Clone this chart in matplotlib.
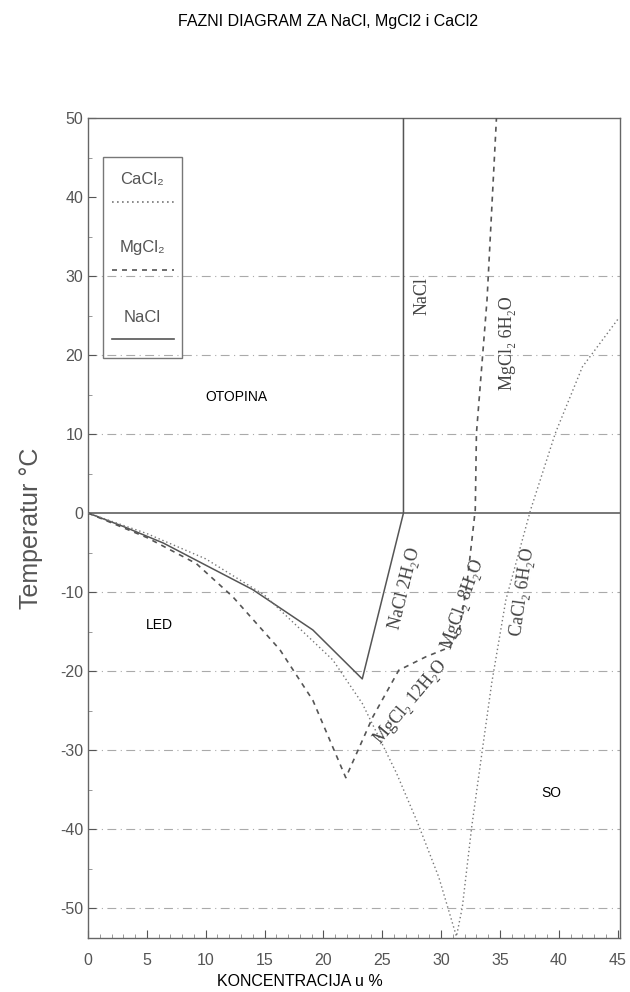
import matplotlib
matplotlib.use('Agg')
import matplotlib.pyplot as plt
from matplotlib.patches import Rectangle
from matplotlib.lines import Line2D

# values (concentration %, temperature degC)
nacl_x = [0, 3, 6.4, 10, 14.0, 19.1, 23.3, 26.8, 26.8]
nacl_t = [0, -1.7, -3.8, -6.6, -9.7, -14.8, -21.0, 0, 50]

mgcl2_x = [0, 5, 9.2, 12.3, 16.3, 19.1, 21.9, 24.2, 26.4, 28.7, 30.7, 31.5,
           32.2, 32.9, 33.0, 33.9, 34.7]
mgcl2_t = [0, -3.1, -6.4, -10.6, -17.3, -23.7, -33.5, -25.8, -19.9, -18.2,
           -17.0, -15.2, -8.9, 0.4, 10.1, 27.0, 50]

cacl2_x = [0, 5, 10, 15, 16.9, 20.8, 23.3, 26.2, 28.0, 29.8, 31.3, 31.8,
           32.6, 33.5, 34.3, 35.5, 37.6, 39.7, 42.0, 45.0]
cacl2_t = [0, -2.6, -5.8, -10.4, -13.1, -18.6, -24.1, -32.9, -39.2, -46.1,
           -53.6, -49.9, -39.7, -30.0, -21.5, -11.0, 0.4, 10.1, 18.5, 24.5]

xticks = [0, 5, 10, 15, 20, 25, 30, 35, 40, 45]
yticks = [50, 40, 30, 20, 10, 0, -10, -20, -30, -40, -50]
grid_t = [30, 20, 10, -10, -20, -30, -40, -50]

plt.rcParams['font.family'] = ['Liberation Sans', 'DejaVu Sans']
ink = '#555555'
serif = ['Liberation Serif', 'DejaVu Serif']

fig = plt.figure(figsize=(6.3, 9.92), dpi=100)
fig.set_facecolor('white')
ax = fig.add_axes([0.1397, 0.0544, 0.8445, 0.8266])

for g in grid_t:
    ax.axhline(g, color='#aaaaaa', lw=0.8, ls=(0, (8, 4, 1, 4)), zorder=1)
ax.axhline(0, color='#777777', lw=1.4, zorder=2)

ax.plot(nacl_x, nacl_t, color=ink, lw=1.1, zorder=3)
ax.plot(mgcl2_x, mgcl2_t, color=ink, lw=1.2, ls=(0, (3, 3)), zorder=3)
ax.plot(cacl2_x, cacl2_t, color='#777777', lw=1.0, ls=(0, (1, 2)), zorder=3)

ax.set_xlim(0, 45.2)
ax.set_ylim(-53.8, 50)
ax.set_xticks(xticks)
ax.set_yticks(yticks)
ax.set_xticks(range(0, 46), minor=True)
ax.set_yticks(range(-50, 51, 5), minor=True)
ax.tick_params(direction='in', colors=ink, labelsize=11.5, length=6, width=0.8)
ax.tick_params(which='minor', direction='in', colors='#888888', length=3)
ax.tick_params(axis='x', pad=11)
ax.set_yticklabels([str(v) for v in yticks])
for s in ax.spines.values():
    s.set_color('#666666')
    s.set_linewidth(1.0)

ax.set_ylabel('Temperatur °C', fontsize=18, color=ink, labelpad=12)
fig.text(0.476, 0.011, 'KONCENTRACIJA u %', ha='center', va='center',
         fontsize=11.5)
fig.text(0.521, 0.978, 'FAZNI DIAGRAM ZA NaCl, MgCl2 i CaCl2', ha='center',
         va='center', fontsize=11.5)

# region names
ax.text(12.6, 14.7, 'OTOPINA', fontsize=10, ha='center', va='center')
ax.text(6.1, -14.2, 'LED', fontsize=10, ha='center', va='center')
ax.text(39.4, -35.4, 'SO', fontsize=10, ha='center', va='center')

# curve labels
lab = dict(fontsize=13, color='#444444', ha='center', va='center', family=serif)
ax.text(28.4, 27.5, 'NaCl', rotation=90, **lab)
ax.text(35.6, 21.5, 'MgCl₂ 6H₂O', rotation=90, **lab)
ax.text(26.9, -9.5, 'NaCl 2H₂O', rotation=76, **lab)
ax.text(31.9, -11.5, 'MgCl₂ 8H₂O', rotation=70, **lab)
ax.text(36.9, -10.0, 'CaCl₂ 6H₂O', rotation=82, **lab)
ax.text(27.4, -24.0, 'MgCl₂ 12H₂O', rotation=50, **lab)

# legend box drawn by hand like the original
ax.add_patch(Rectangle((1.27, 19.6), 6.7, 25.5, fill=False, ec='#777777',
                       lw=1.0, zorder=4))
leg = [('CaCl₂', 42.2, (0, (1, 2)), '#777777'),
       ('MgCl₂', 33.6, (0, (3, 3)), ink),
       ('NaCl', 24.8, '-', ink)]
for name, ty, style, col in leg:
    ax.text(4.6, ty, name, fontsize=12, color='#555555', ha='center', va='center')
    ax.add_line(Line2D([2.0, 7.3], [ty - 2.8, ty - 2.8], color=col, ls=style,
                       lw=1.2, zorder=4))

fig.savefig('out.png', dpi=100, facecolor='white')
